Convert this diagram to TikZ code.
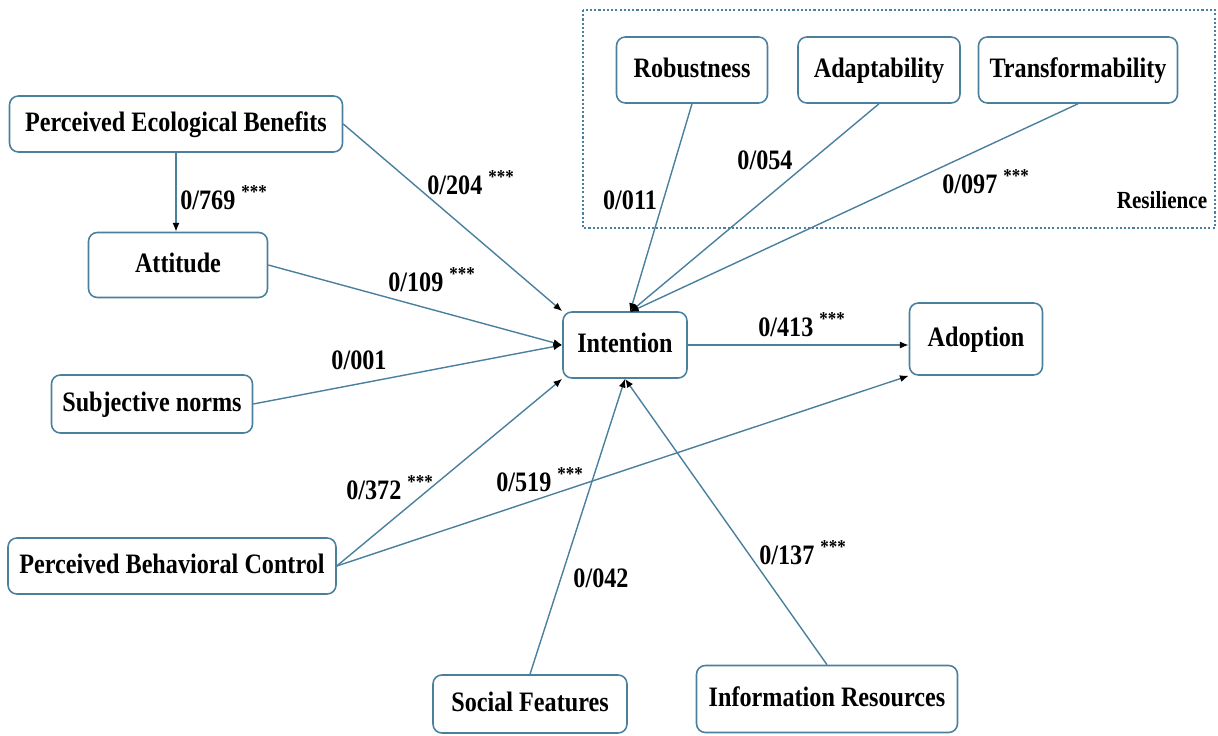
\documentclass[tikz,border=0pt]{standalone}
\usepackage{fontspec}
\setmainfont{Liberation Serif}[FakeStretch=0.86]
\usetikzlibrary{arrows.meta}
\definecolor{boxline}{RGB}{74,128,158}

\begin{document}
\begin{tikzpicture}[x=0.02cm, y=-0.02cm,
		factor/.style={draw=boxline, line width=0.9pt, rounded corners=5pt, fill=white,
			font=\fontsize{16}{18}\selectfont\bfseries, inner sep=2pt,
			text height=1.95ex, text depth=0pt},
		path/.style={draw=boxline, line width=0.8pt, -{Latex[color=black, length=5pt, width=4pt]}},
		coef/.style={font=\fontsize{16}{18}\selectfont\bfseries, inner sep=1pt}]
			\useasboundingbox (0, 0) rectangle (1218, 736);
			
			% resilience group
			\draw[boxline, line width=0.8pt, dash pattern=on 1.2pt off 1.2pt] (583, 10) rectangle (1215, 228);
			\node[coef, font=\fontsize{14}{16}\selectfont\bfseries] (resil) at (1162, 200) {Resilience};
			
			\node[factor, minimum width=6.66cm, minimum height=1.12cm] (peb) at (176, 124) {Perceived Ecological Benefits};
			\node[factor, minimum width=3.58cm, minimum height=1.3cm] (att) at (178, 265) {Attitude};
			\node[factor, minimum width=4.02cm, minimum height=1.16cm] (sn) at (152, 404) {Subjective norms};
			\node[factor, minimum width=6.56cm, minimum height=1.12cm] (pbc) at (172, 566) {Perceived Behavioral Control};
			\node[factor, minimum width=3.88cm, minimum height=1.16cm] (soc) at (530, 704) {Social Features};
			\node[factor, minimum width=5.22cm, minimum height=1.34cm] (inf) at (827, 699) {Information Resources};
			\node[factor, minimum width=2.48cm, minimum height=1.32cm] (int) at (625, 345) {Intention};
			\node[factor, minimum width=2.66cm, minimum height=1.44cm] (ado) at (976, 339) {Adoption};
			\node[factor, minimum width=3.02cm, minimum height=1.32cm] (rob) at (692, 70) {Robustness};
			\node[factor, minimum width=3.24cm, minimum height=1.32cm] (ada) at (879, 70) {Adaptability};
			\node[factor, minimum width=3.98cm, minimum height=1.32cm] (tra) at (1078, 70) {Transformability};
			
			\coordinate (inttop) at (630, 312);
			
			\draw[path] (peb.south) -- (peb.south |- att.north);
			\draw[path] (peb.east) -- (int.north west);
			\draw[path] (att.east) -- (int.west);
			\draw[path] (sn.east) -- (int.west);
			\draw[path] (pbc.east) -- (int.south west);
			\draw[path] (pbc.east) -- (ado.south west);
			\draw[path] (soc.north) -- (int.south);
			\draw[path] (inf.north) -- (int.south);
			\draw[path] (int.east) -- (int.east -| ado.west);
			\draw[path] (rob.south) -- (inttop);
			\draw[path] (ada.south) -- (inttop);
			\draw[path] (tra.south) -- (inttop);
			
			\node[coef] (c769) at (224, 198) {0/769 \textsuperscript{***}};
			\node[coef] (c204) at (471, 183) {0/204 \textsuperscript{***}};
			\node[coef] (c109) at (432, 280) {0/109 \textsuperscript{***}};
			\node[coef] (c001) at (359, 360) {0/001};
			\node[coef] (c372) at (390, 488) {0/372 \textsuperscript{***}};
			\node[coef] (c519) at (540, 480) {0/519 \textsuperscript{***}};
			\node[coef] (c042) at (601, 578) {0/042};
			\node[coef] (c137) at (803, 553) {0/137 \textsuperscript{***}};
			\node[coef] (c413) at (802, 325) {0/413 \textsuperscript{***}};
			\node[coef] (c011) at (630, 200) {0/011};
			\node[coef] (c054) at (765, 160) {0/054};
			\node[coef] (c097) at (986, 182) {0/097 \textsuperscript{***}};
			
		\end{tikzpicture}
\end{document}
